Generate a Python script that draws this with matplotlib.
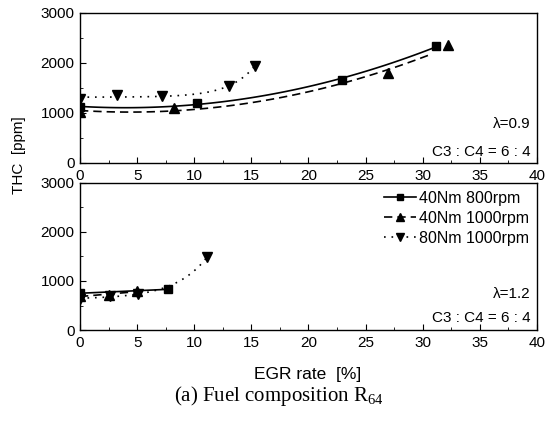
import numpy as np
import matplotlib
matplotlib.use("Agg")
import matplotlib.pyplot as plt
from matplotlib.ticker import MultipleLocator
from matplotlib.lines import Line2D

plt.rcParams['font.family'] = ['Liberation Sans', 'DejaVu Sans']
plt.rcParams['font.size'] = 11

# lambda = 0.9
top_800_x = [0, 10.2, 22.9, 31.2]
top_800_y = [1120, 1200, 1660, 2340]
top_1000_x = [0, 8.2, 27.0, 32.2]
top_1000_y = [1020, 1100, 1790, 2360]
top_80nm_x = [0, 3.2, 7.2, 13.0, 15.3]
top_80nm_y = [1280, 1360, 1330, 1540, 1940]

# lambda = 1.2
bot_800_x = [0, 7.7]
bot_800_y = [750, 830]
bot_1000_x = [0, 2.5, 5.0]
bot_1000_y = [690, 720, 790]
bot_80nm_x = [0, 2.6, 5.1, 11.1]
bot_80nm_y = [640, 690, 730, 1480]

labels = ["40Nm 800rpm", "40Nm 1000rpm", "80Nm 1000rpm"]
styles = [("s", "-"), ("^", (0, (5, 3))), ("v", (0, (1, 3.5)))]


def poly_curve(x, y, deg, xs):
    return np.polyval(np.polyfit(x, y, deg), xs)


def exp_curve(x, y, xs):
    # y = a + b*exp(c*x), c picked by a coarse search
    x = np.asarray(x, float)
    y = np.asarray(y, float)
    best = None
    for c in np.linspace(0.02, 1.0, 200):
        A = np.column_stack([np.ones_like(x), np.exp(c * x)])
        coef, res, *_ = np.linalg.lstsq(A, y, rcond=None)
        err = np.sum((A @ coef - y) ** 2)
        if best is None or err < best[0]:
            best = (err, c, coef)
    _, c, (a, b) = best
    return a + b * np.exp(c * xs)


def fit_line(ax, x, y, kind, ls, x_end=None):
    xs = np.linspace(min(x), max(x) if x_end is None else x_end, 120)
    if kind == "exp":
        ys = exp_curve(x, y, xs)
    else:
        ys = poly_curve(x, y, kind, xs)
    ax.plot(xs, ys, color="black", lw=1.2, linestyle=ls)


def style_axes(ax):
    ax.set_xlim(0, 40)
    ax.set_ylim(0, 3000)
    ax.xaxis.set_major_locator(MultipleLocator(5))
    ax.xaxis.set_minor_locator(MultipleLocator(2.5))
    ax.yaxis.set_major_locator(MultipleLocator(1000))
    ax.yaxis.set_minor_locator(MultipleLocator(500))
    ax.tick_params(which="both", direction="in", top=False, right=False, labelsize=11, pad=4)
    ax.tick_params(which="major", length=4)
    ax.tick_params(which="minor", length=2.5)
    for s in ax.spines.values():
        s.set_linewidth(1.0)


fig = plt.figure(figsize=(5.46, 4.25), dpi=100)
ax1 = fig.add_axes([0.1465, 0.6165, 0.837, 0.353])
ax2 = fig.add_axes([0.1465, 0.2235, 0.837, 0.346])

series_top = [(top_800_x, top_800_y, 2, None), (top_1000_x, top_1000_y, 2, 30.8),
              (top_80nm_x, top_80nm_y, "exp", None)]
series_bot = [(bot_800_x, bot_800_y, 1, None), (bot_1000_x, bot_1000_y, 1, None),
              (bot_80nm_x, bot_80nm_y, "exp", None)]

for ax, series in [(ax1, series_top), (ax2, series_bot)]:
    for (x, y, kind, x_end), (mk, ls) in zip(series, styles):
        fit_line(ax, x, y, kind, ls, x_end)
        ax.plot(x, y, linestyle="none", marker=mk, color="black", markersize=6.5 if mk != "s" else 5.5)
    style_axes(ax)

ax1.text(0.985, 0.26, "λ=0.9", transform=ax1.transAxes, ha="right", va="center", fontsize=11)
ax1.text(0.985, 0.075, "C3 : C4 = 6 : 4", transform=ax1.transAxes, ha="right", va="center", fontsize=11)
ax2.text(0.985, 0.245, "λ=1.2", transform=ax2.transAxes, ha="right", va="center", fontsize=11)
ax2.text(0.985, 0.08, "C3 : C4 = 6 : 4", transform=ax2.transAxes, ha="right", va="center", fontsize=11)

handles = [Line2D([], [], color="black", lw=1.2, linestyle=ls, marker=mk, markersize=6 if mk != "s" else 5)
           for mk, ls in styles]
ax2.legend(handles, labels, loc="upper right", frameon=False, fontsize=11.5, handlelength=2.0,
           handletextpad=0.2, labelspacing=0.3, borderaxespad=0.1)

fig.text(0.035, 0.635, "THC  [ppm]", rotation=90, ha="center", va="center", fontsize=11)
fig.text(0.564, 0.12, "EGR rate  [%]", ha="center", va="center", fontsize=12.5)
fig.text(0.510, 0.068, r"(a) Fuel composition R$_{\mathregular{64}}$", ha="center", va="center",
         fontsize=15, family=["Liberation Serif", "DejaVu Serif"])

fig.savefig("out.png", dpi=100)
